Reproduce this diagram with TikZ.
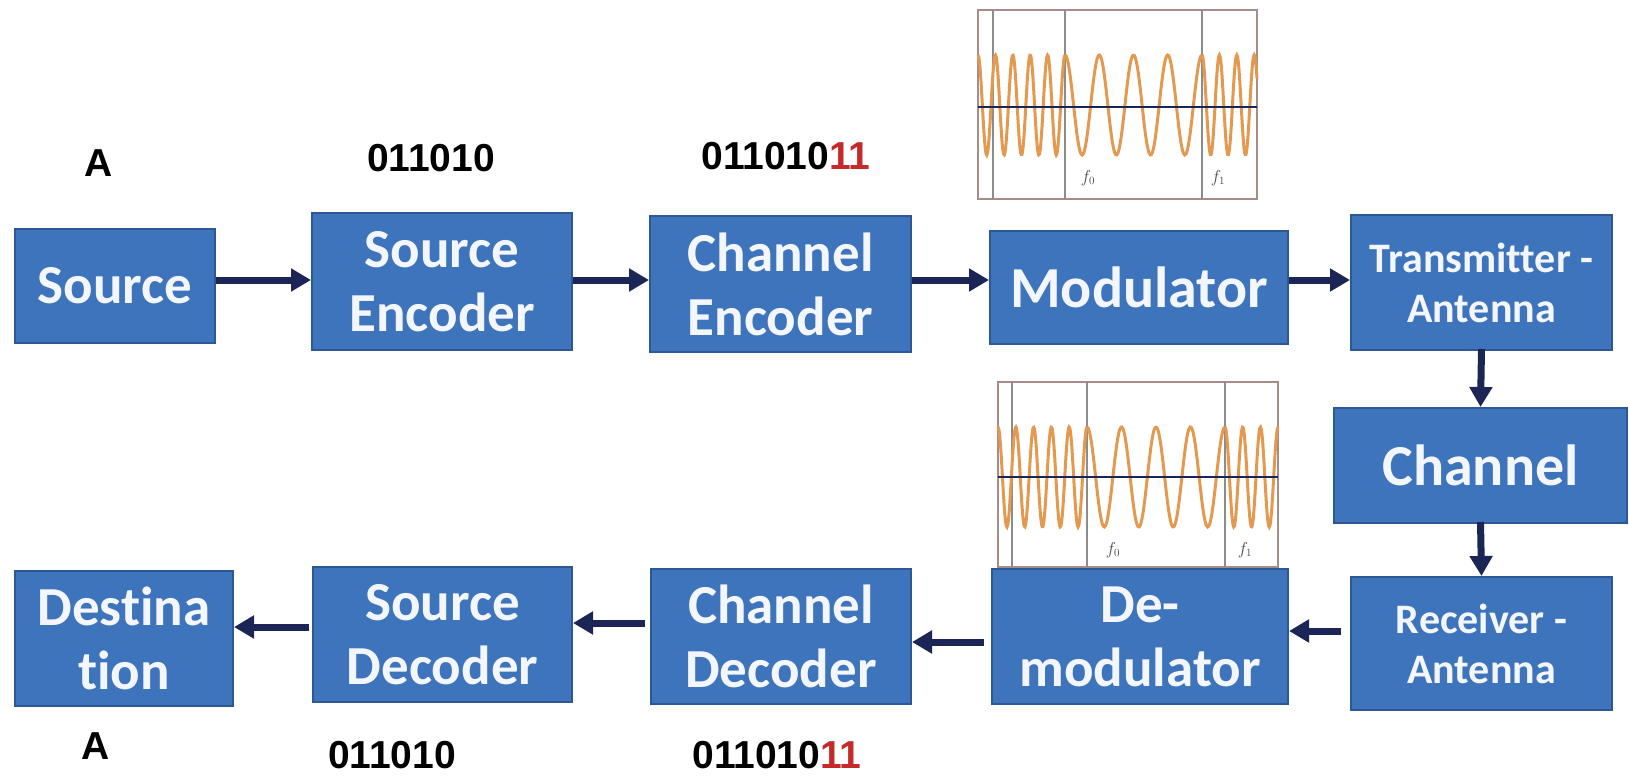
\documentclass[tikz,border=0pt]{standalone}
\usepackage{fontspec}
\setmainfont{Carlito}[Ligatures=NoCommon]
\newfontfamily\labelfont{Liberation Sans}
\usetikzlibrary{arrows.meta,calc}
\definecolor{boxfill}{HTML}{3E74BC}
\definecolor{boxedge}{HTML}{2C5896}
\definecolor{arrowcol}{HTML}{1B2656}
\definecolor{wavecol}{HTML}{E39A50}
\definecolor{framecol}{HTML}{A88C88}
\definecolor{gridcol}{HTML}{8C8C8C}
\definecolor{bitred}{HTML}{C42A2A}
\definecolor{boxtext}{HTML}{F3F7FD}

\begin{document}
\begin{tikzpicture}[x=1pt,y=-1pt,
  block/.style={draw=boxedge, line width=2pt, fill=boxfill, text=boxtext,
    align=center, inner sep=0pt, font=\fontsize{55}{64}\selectfont\bfseries},
  smalltext/.style={font=\fontsize{42}{50}\selectfont\bfseries},
  flow/.style={draw=arrowcol, line width=7pt, -{Triangle[length=20pt,width=22pt]}},
  bits/.style={font=\labelfont\bfseries\fontsize{39}{44}\selectfont, inner sep=0pt},
  frame/.style={draw=framecol, line width=1.5pt},
  gridline/.style={draw=gridcol, line width=1.2pt},
  wave/.style={draw=wavecol, line width=3pt},
  axis/.style={draw=arrowcol, line width=2pt},
  freq/.style={font=\fontsize{16}{18}\selectfont, text=black!70, inner sep=0pt}]

\useasboundingbox[fill=white] (0,0) rectangle (1629,778);

% ---- FSK waveform above the modulator ----
\draw[frame] (978,10) rectangle (1257,199);
\draw[gridline] (993,10) -- (993,199);
\draw[gridline] (1065,10) -- (1065,199);
\draw[gridline] (1202,10) -- (1202,199);
\draw[wave] plot[domain=978:1065,samples=120,smooth] (\x,{105-50*cos(((\x-978)/17.4)*360)});
\draw[wave] plot[domain=1065:1202,samples=120,smooth] (\x,{105-50*cos(((\x-1065)/34.25)*360)});
\draw[wave] plot[domain=1202:1257,samples=80,smooth] (\x,{105-50*cos(((\x-1202)/17.4)*360)});
\draw[axis] (978,107) -- (1257,107);
\node[freq] (f0top) at (1088,178) {$f_0$};
\node[freq] (f1top) at (1218,178) {$f_1$};

% ---- FSK waveform above the demodulator ----
\draw[frame] (998,382) rectangle (1278,567);
\draw[gridline] (1012,382) -- (1012,567);
\draw[gridline] (1087,382) -- (1087,567);
\draw[gridline] (1225,382) -- (1225,567);
\draw[wave] plot[domain=998:1087,samples=120,smooth] (\x,{477-50*cos(((\x-998)/17.8)*360)});
\draw[wave] plot[domain=1087:1225,samples=120,smooth] (\x,{477-50*cos(((\x-1087)/34.5)*360)});
\draw[wave] plot[domain=1225:1278,samples=80,smooth] (\x,{477-50*cos(((\x-1225)/17.7)*360)});
\draw[axis] (998,477) -- (1278,477);
\node[freq] (f0bot) at (1113,550) {$f_0$};
\node[freq] (f1bot) at (1245,550) {$f_1$};

% ---- transmitter chain ----
\node[block, minimum width=200pt, minimum height=114pt] (src)  at (115,286)   {Source};
\node[block, minimum width=260pt, minimum height=137pt] (senc) at (442,281.5) {Source\\Encoder};
\node[block, minimum width=261pt, minimum height=136pt] (cenc) at (780.5,284) {Channel\\Encoder};
\node[block, minimum width=298pt, minimum height=113pt, font=\fontsize{58}{64}\selectfont\bfseries] (mod) at (1139,287.5) {Modulator};
\node[block, smalltext, minimum width=261pt, minimum height=135pt] (tx) at (1481.5,282.5) {Transmitter -\\Antenna};

% ---- channel ----
\node[block, minimum width=293pt, minimum height=115pt, font=\fontsize{58}{64}\selectfont\bfseries] (ch) at (1480.5,465.5) {Channel};

% ---- receiver chain ----
\node[block, smalltext, minimum width=261pt, minimum height=133pt] (rx) at (1481.5,643.5) {Receiver -\\Antenna};
\node[block, minimum width=296pt, minimum height=135pt] (dem)  at (1140,636.5) {De-\\modulator};
\node[block, minimum width=260pt, minimum height=135pt] (cdec) at (781,636.5)  {Channel\\Decoder};
\node[block, minimum width=259pt, minimum height=135pt] (sdec) at (442.5,634.5) {Source\\Decoder};
\node[block, minimum width=218pt, minimum height=135pt] (dst)  at (124,638.5)  {Destina\\tion};

% ---- data labels ----
\node[bits] (symA)  at (99,163)  {A};
\node[bits] (srcbits) at (431,158) {011010};
\node[bits] (chbits)  at (786,156) {011010\textcolor{bitred}{11}};
\node[bits] (symB)  at (96,746)  {A};
\node[bits] (srcbitsr) at (392,755) {011010};
\node[bits] (chbitsr)  at (777,755) {011010\textcolor{bitred}{11}};

% ---- signal flow ----
\coordinate (rowa) at (0,280);
\draw[flow] (src.east |- rowa)  -- (senc.west |- rowa);
\draw[flow] (senc.east |- rowa) -- (cenc.west |- rowa);
\draw[flow] (cenc.east |- rowa) -- (mod.west |- rowa);
\draw[flow] (mod.east |- rowa)  -- (tx.west |- rowa);
\draw[flow] ([yshift=2pt]tx.south) -- (ch.north);
\draw[flow] ([yshift=2pt]ch.south) -- (rx.north);

\coordinate (rowb) at (0,631);
\coordinate (rowc) at (0,642);
\coordinate (rowd) at (0,623);
\coordinate (rowe) at (0,627);
\draw[flow] ([xshift=-9pt]rx.west |- rowb)  -- (dem.east |- rowb);
\draw[flow] ([xshift=-7pt]dem.west |- rowc) -- (cdec.east |- rowc);
\draw[flow] ([xshift=-5pt]cdec.west |- rowd) -- (sdec.east |- rowd);
\draw[flow] ([xshift=-3pt]sdec.west |- rowe) -- (dst.east |- rowe);
\end{tikzpicture}
\end{document}
